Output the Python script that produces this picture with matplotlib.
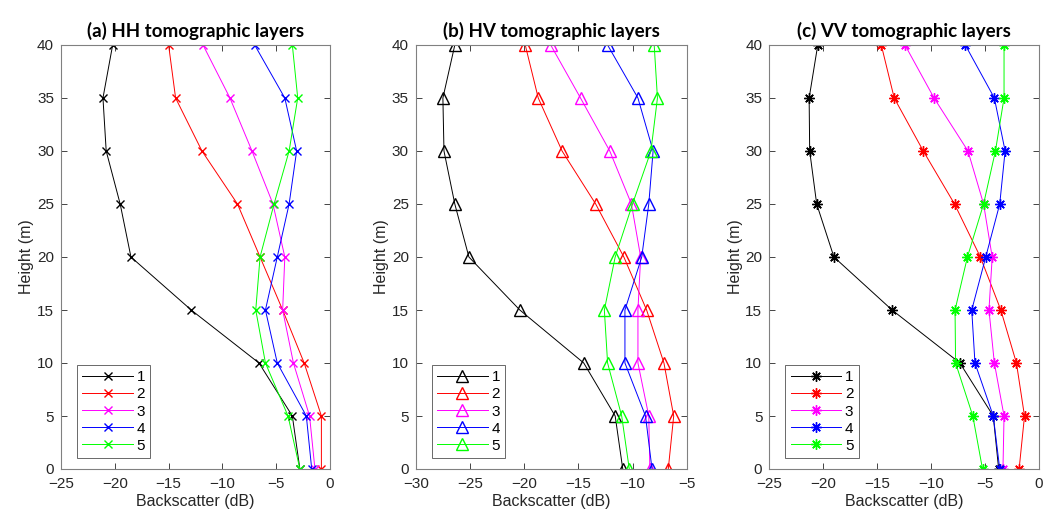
import matplotlib
matplotlib.use("Agg")
import matplotlib.pyplot as plt

heights = [0, 5, 10, 15, 20, 25, 30, 35, 40]
series_labels = ["1", "2", "3", "4", "5"]

hh = {
    "1": [-2.8, -3.5, -6.6, -12.9, -18.5, -19.5, -20.8, -21.1, -20.2],
    "2": [-0.8, -0.8, -2.4, -4.4, -6.5, -8.6, -11.9, -14.35, -15.0],
    "3": [-1.4, -1.9, -3.4, -4.4, -4.2, -5.3, -7.25, -9.3, -11.8],
    "4": [-1.7, -2.2, -4.9, -6.0, -4.9, -3.8, -3.1, -4.2, -7.0],
    "5": [-2.8, -3.9, -6.0, -6.9, -6.5, -5.2, -3.8, -3.0, -3.5],
}
hv = {
    "1": [-10.9, -11.6, -14.5, -20.4, -25.1, -26.4, -27.4, -27.5, -26.4],
    "2": [-6.7, -6.2, -7.1, -8.7, -10.8, -13.4, -16.5, -18.7, -19.9],
    "3": [-8.4, -8.5, -9.5, -9.5, -9.25, -10.1, -12.1, -14.8, -17.55],
    "4": [-8.2, -8.8, -10.7, -10.7, -9.15, -8.5, -8.1, -9.5, -12.3],
    "5": [-10.3, -11.0, -12.3, -12.6, -11.6, -10.0, -8.3, -7.7, -8.0],
}
vv = {
    "1": [-3.7, -4.2, -7.3, -13.6, -19.0, -20.6, -21.25, -21.3, -20.5],
    "2": [-1.8, -1.3, -2.05, -3.5, -5.4, -7.8, -10.7, -13.4, -14.6],
    "3": [-3.3, -3.2, -4.1, -4.6, -4.3, -5.1, -6.55, -9.7, -12.4],
    "4": [-3.6, -4.2, -5.9, -6.2, -4.9, -3.6, -3.1, -4.1, -6.8],
    "5": [-5.2, -6.1, -7.7, -7.75, -6.6, -5.1, -4.0, -3.2, -3.2],
}

titles = ["(a) HH tomographic layers", "(b) HV tomographic layers", "(c) VV tomographic layers"]
xlims = [(-25, 0), (-30, -5), (-25, 0)]
xticks = [[-25, -20, -15, -10, -5, 0], [-30, -25, -20, -15, -10, -5], [-25, -20, -15, -10, -5, 0]]
yticks = [0, 5, 10, 15, 20, 25, 30, 35, 40]
colors = ["#000000", "#ff0000", "#ff00ff", "#0000ff", "#00ff00"]

plt.rcParams['font.family'] = ['Liberation Sans', 'DejaVu Sans']

fig = plt.figure(figsize=(10.52, 5.19), dpi=100)
W, H = 1052, 519
boxes = [(61, 330), (415.8, 686.7), (769.3, 1038.5)]
top, bot = 45, 469
datasets = [hh, hv, vv]
markers = ["x", "^", (8, 2, 0)]
msizes = [6, 9, 7.5]
axcol = "#262626"

for i in range(3):
    l, r = boxes[i]
    ax = fig.add_axes([l / W, (H - bot) / H, (r - l) / W, (bot - top) / H])
    for j, lab in enumerate(series_labels):
        kw = dict(color=colors[j], lw=0.7, marker=markers[i], ms=msizes[i], label=lab)
        if markers[i] == "^":
            kw.update(mfc="none", mew=1.0)
        else:
            kw.update(mew=1.0)
        ax.plot(datasets[i][lab], heights, **kw)
    ax.set_xlim(*xlims[i])
    ax.set_ylim(0, 40)
    ax.set_xticks(xticks[i])
    ax.set_yticks(yticks)
    ax.tick_params(direction="in", top=True, right=True, labelsize=11,
                   colors=axcol, length=4, width=0.6)
    ax.tick_params(axis="x", pad=6)
    ax.tick_params(axis="y", pad=5)
    for s in ax.spines.values():
        s.set_color("#808080")
        s.set_linewidth(0.8)
    ax.set_title(titles[i], fontsize=13.5, fontweight="bold", family=["Lato", "DejaVu Sans"],
                 pad=6)
    ax.set_xlabel("Backscatter (dB)", fontsize=11.5, color=axcol, labelpad=2)
    ax.set_ylabel("Height (m)", fontsize=11.5, color=axcol, labelpad=2)
    w_ax = r - l
    leg = ax.legend(loc="lower left", bbox_to_anchor=(16 / w_ax, 11 / (bot - top)),
                    borderaxespad=0, fontsize=11, frameon=True, fancybox=False,
                    handlelength=3.3, labelspacing=0.2,
                    borderpad=0.35, handletextpad=0.25)
    leg.get_frame().set_edgecolor("#262626")
    leg.get_frame().set_linewidth(0.6)

fig.savefig("out.png", dpi=100)
